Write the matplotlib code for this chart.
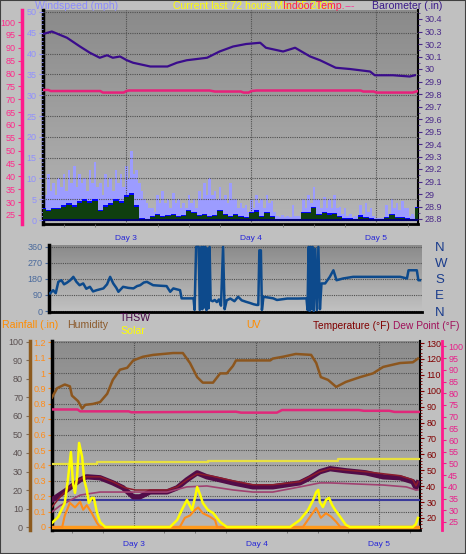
import numpy as np
import matplotlib
matplotlib.use('Agg')
import matplotlib.pyplot as plt
from matplotlib.colors import LinearSegmentedColormap
from matplotlib.ticker import MultipleLocator, FuncFormatter, FixedLocator
from matplotlib.patches import Rectangle

plt.rcParams['font.family'] = ['Liberation Sans', 'DejaVu Sans']

# ---------------- DATA ----------------
day_ticks = [16.0, 40.0, 64.0]
day_labels = ['Day 3', 'Day 4', 'Day 5']

# wind gusts, half-hourly (mph)
gust_mph = [8, 6, 11, 7, 9, 6, 10, 8, 11, 7, 12, 9,
            13, 8, 11, 9, 10, 7, 12, 9, 14, 8, 9, 6,
            11, 8, 10, 7, 12, 9, 11, 8, 13, 10, 16.5, 11,
            12, 9, 7, 5, 4, 3, 3, 2, 6, 4, 7, 4,
            5, 3, 6.5, 4, 5, 3, 4, 3, 6, 4, 5, 3,
            7, 5, 9, 6, 10, 6, 7, 5, 8, 5, 6, 4,
            9, 5, 5, 3, 4, 3, 3.5, 2, 5, 3, 6, 4,
            5, 3, 6, 4, 4.5, 2, 1, 0.8, 1.2, 0.8, 1, 0.8,
            3.5, 1, 1, 0.8, 5, 3, 6, 4, 8, 5, 5, 3,
            5.5, 3, 5, 3, 6, 3, 3.2, 1.5, 3, 1, 1.5, 0.8,
            1, 0.8, 3.5, 1.5, 4, 2, 3, 1, 0.5, 0.5, 0.5, 0.5,
            3.5, 1.5, 5, 3, 4, 2.5, 4.5, 3, 3, 1, 1.5, 1,
            7]
# average wind, hourly (mph)
wind_avg = [3, 2.5, 3, 3, 3.5, 4, 3.5, 4.5, 5, 4.5,
            5, 2.5, 3.5, 4, 5, 4.5, 6, 6.5, 3.5, 0.5,
            0.3, 1, 1.5, 1, 1.2, 1.5, 1, 1.2, 2.5, 2,
            1.2, 1.5, 1, 1.2, 2.5, 1.5, 1, 1.5, 1, 0.8,
            2, 2.4, 1, 2, 1, 0.3, 0.3, 0.3, 0.3, 0.3,
            2, 2, 3.2, 1.5, 2, 1.6, 1.8, 1, 0.6, 0.5,
            0.3, 1.2, 0.8, 0.5, 0.2, 0.2, 0.8, 1.5, 0.8, 0.8,
            0.5, 0.3, 3.2]
wind_low = [2.7, 2.1, 2.7, 2.6, 3.1, 3.6, 3.1, 4.1, 4.6, 4.1,
            4.6, 2.1, 3.1, 3.6, 4.6, 4.1, 5.5, 6.0, 3.1, 0.2,
            0.1, 0.7, 1.1, 0.7, 0.9, 1.1, 0.7, 0.9, 2.1, 1.6,
            0.9, 1.1, 0.7, 0.9, 2.1, 1.1, 0.7, 1.1, 0.7, 0.5,
            1.6, 2.0, 0.7, 1.6, 0.7, 0.1, 0.1, 0.1, 0.1, 0.1,
            1.6, 1.6, 2.8, 1.1, 1.6, 1.2, 1.4, 0.7, 0.3, 0.2,
            0.1, 0.8, 0.5, 0.2, 0.1, 0.1, 0.5, 1.1, 0.5, 0.5,
            0.2, 0.1, 2.8]

baro_hours = [0, 1.7, 4.6, 7.1, 9.0, 10.9, 12.3, 13.4, 14.8, 16.1, 17.3, 20.6, 23.9, 25.7,
              27.6, 31.5, 33.9, 36.5, 39.0, 41.7, 42.8, 46.1, 48.4, 51.3, 53.2, 56.2,
              58.9, 62.8, 63.7, 67.2, 70.4, 71.4]
baro_in = [30.28, 30.30, 30.25, 30.18, 30.13, 30.09, 30.11, 30.09, 30.10, 30.07, 30.05, 30.02, 30.02, 30.05,
           30.07, 30.09, 30.14, 30.18, 30.20, 30.21, 30.17, 30.14, 30.17, 30.10, 30.07, 30.01,
           30.00, 29.98, 29.95, 29.95, 29.94, 29.95]

in_temp_hours = [0, 1, 1.5, 11, 11.5, 15.5, 16, 16.5, 32, 33, 38, 38.5, 39.5, 40, 41, 61, 61.5, 63.5, 64, 71, 72]
in_temp_f = [73.6, 73.6, 73.2, 73.2, 72.6, 72.6, 73.2, 73.4, 73.4, 73.0, 73.0, 72.6, 72.6, 73.2, 73.4,
             73.4, 73.0, 73.0, 72.6, 72.6, 73.2]

dir_hours = [0.2, 0.8, 1.3, 1.8, 2.4, 2.9, 3.4, 4.1, 4.7, 5.3, 5.9, 6.6, 7.2, 7.9, 8.5, 9.2, 10.5, 11.2,
             11.8, 12.4, 13.0, 13.4, 14.3, 15.3, 16.3, 17.0, 17.6, 18.3, 18.9, 20.1, 21.5, 22.7, 23.4,
             24.0, 25.3, 25.6, 27.9, 28.1, 28.4, 28.9, 29.1, 29.4, 29.6, 29.8, 30.0, 30.2, 30.4, 30.6,
             30.8, 31.0, 31.2, 31.6, 32.0, 32.4, 32.8, 33.2, 33.6, 33.9, 34.3, 35.0, 35.8, 36.5, 37.2,
             38.0, 38.8, 39.5, 40.1, 40.4, 40.6, 40.9, 41.1, 41.4, 42.5, 43.3, 44.0, 46.0, 48.0, 49.7,
             49.9, 50.1, 50.3, 50.5, 50.7, 50.9, 51.1, 51.4, 51.7, 52.0, 52.3, 52.6, 53.3, 54.2, 54.9,
             55.5, 56.8, 58.7, 67.8, 69.1, 69.4, 71.0, 71.3, 71.6]
dir_deg = [99, 117, 100, 164, 173, 150, 158, 173, 192, 164, 145, 155, 125, 136, 110, 117, 127, 150,
           192, 155, 130, 108, 136, 130, 127, 140, 145, 160, 164, 145, 142, 140, 108,
           127, 117, 71, 71, 6, 360, 360, 6, 360, 10, 360, 20, 360, 5, 350,
           15, 360, 60, 55, 62, 50, 65, 30, 360, 10, 60, 70, 55, 80, 60,
           52, 45, 38, 34, 34, 341, 341, 6, 80, 75, 71, 62, 70, 70, 71,
           6, 360, 0, 360, 10, 360, 0, 350, 5, 360, 10, 155, 155, 192, 229,
           173, 183, 192, 192, 183, 229, 229, 173, 173]

hum_hours = [0, 1, 2.5, 3.5, 3.9, 5.1, 5.9, 6.5, 8.0, 9.4, 10.8, 11.9, 13.3, 14.7, 15.9, 17.8, 19.8,
             23.7, 25.6, 27.0, 28.4, 29.5, 31.5, 32.9, 34.2, 35.4, 36.0, 42.7, 43.2, 45.2, 47.7,
             50.7, 51.7, 52.6, 54.0, 55.6, 57.5, 60.3, 62.8, 64.8, 68.1, 70.6, 71.6]
hum_pct = [70, 75, 77, 76, 71, 68, 64, 66, 66.5, 67.5, 72, 79.5, 85, 86, 90, 92, 93,
           94, 94, 88.6, 81, 78, 78, 83, 83, 87, 90, 90, 91, 92, 93.5,
           93, 88.6, 81, 79.5, 75.7, 78.4, 81, 83, 86.5, 88.6, 89, 91]
in_hum_hours = [0, 5, 5.5, 15, 15.5, 36, 37, 44, 45, 60, 61, 66, 67, 72]
in_hum_pct = [63.5, 63.5, 62.5, 62.5, 62.0, 62.3, 61.8, 61.8, 63.2, 63.2, 62.8, 62.8, 62.2, 62.2]

thsw_hours = [0, 2.9, 5.5, 6.8, 9.4, 11.9, 13.9, 15.9, 17.2, 19.2, 22.5, 24.5, 26.4, 28.4, 30.3,
              32.9, 35.4, 39.3, 43.2, 48.5, 50.5, 52.4, 54.4, 57.5, 61.4, 64.8, 68.1, 70.6, 71.2, 71.6]
thsw_f = [31.4, 37.6, 44.0, 45.9, 45.3, 42.1, 39.0, 33.3, 33.3, 36.4, 36.4, 39.0, 44.0, 48.4, 45.9,
          44.0, 42.1, 39.6, 39.6, 42.1, 45.3, 49.1, 51.0, 49.7, 48.4, 45.9, 45.3, 42.8, 39.0, 42.1]
temp_hours = [0, 1.6, 2.9, 4.5, 6.5, 9.4, 11.9, 14.3, 16.3, 19.2, 22.5, 24.5, 26.4, 28.4, 30.9,
              35.4, 39.3, 43.2, 48.5, 52.4, 54.4, 61.4, 68.1, 70.6, 71.2, 71.6]
temp_f = [26.9, 33.3, 37.6, 42.6, 45.9, 45.9, 42.8, 39.0, 37.6, 37.6, 37.6, 39.6, 44.0, 47.8, 46.6,
          43.4, 40.9, 40.9, 42.8, 49.1, 51.0, 49.1, 46.6, 44.0, 40.2, 42.8]
dew_hours = [0, 1.6, 5.5, 9.4, 22.5, 26.4, 30.3, 35.4, 39.3, 43.2, 48.5, 52.4, 54.4, 64.8, 69.3, 71.2, 71.6]
dew_f = [29.3, 32.0, 36.5, 37.8, 37.8, 40.0, 40.4, 38.7, 37.8, 37.8, 40.0, 41.7, 41.7, 40.8, 40.0, 38.7, 38.7]

solar_hours = [0, 1.2, 2.5, 3.1, 3.7, 4.1, 4.5, 4.9, 5.3, 5.9, 6.3, 6.8, 7.2, 7.8, 8.2, 8.8, 9.4, 10.4,
               23.1, 24.5, 25.4, 26.4, 27.4, 28.0, 28.4, 29.0, 29.5, 30.5, 31.5, 32.9, 34.2,
               46.6, 48.5, 50.1, 51.1, 51.7, 52.1, 52.4, 53.0, 53.6, 54.2, 54.8, 55.4, 56.4, 57.5, 58.3,
               70.6, 71.2, 71.6]
solar_wm2 = [22, 54, 130, 254, 405, 238, 184, 270, 454, 378, 254, 200, 130, 157, 157, 76, 27, 0,
             0, 38, 92, 146, 92, 162, 216, 173, 130, 92, 76, 27, 0,
             0, 38, 92, 146, 189, 200, 135, 108, 146, 157, 119, 92, 54, 11, 0,
             0, 16, 49]
uv_hours = [0, 2.0, 2.5, 3.5, 4.5, 5.5, 6.1, 6.8, 7.8, 8.8, 9.4, 25.0, 26.0, 27.0, 28.0, 28.6, 29.5,
            30.9, 31.9, 32.3, 49.1, 50.5, 51.7, 52.6, 53.6, 54.6, 55.6, 56.4, 72]
uv_index = [0, 0, 1.0, 2.1, 1.7, 2.2, 1.5, 1.9, 1.2, 0.35, 0, 0, 0.8, 1.0, 1.5, 1.7, 1.2,
            0.9, 0.6, 0, 0, 0.9, 1.65, 0.8, 1.2, 0.9, 0.45, 0, 0]
rain_hours = [0, 72]
rain_in = [0, 0]
et_hours = [0, 8.8, 30.5, 56.0, 72]
et_in = [0.41, 0.42, 0.43, 0.44, 0.44]
ref_hours = [0, 72]
ref_in = [0.175, 0.175]

# ---------------- FIGURE ----------------
W, H = 466, 554
fig = plt.figure(figsize=(W / 100, H / 100), dpi=100)
fig.patch.set_facecolor('#c0c0c0')
PT = 0.72


def rect(x0, y0, x1, y1):
    return [x0 / W, 1 - y1 / H, (x1 - x0) / W, (y1 - y0) / H]


def bg(ax, top, bottom):
    cmap = LinearSegmentedColormap.from_list('g', [bottom, top])
    grad = np.linspace(0, 1, 256).reshape(-1, 1)
    ax.imshow(grad, extent=(0, 1, 0, 1), transform=ax.transAxes, aspect='auto',
              cmap=cmap, origin='lower', zorder=0)


fmt = FuncFormatter(lambda v, p: f'{round(v, 3):g}')


def hide(ax, keep=()):
    for k, s in ax.spines.items():
        s.set_visible(k in keep)


def text(x, y, s, color, size=7.6):
    fig.text(x / W, 1 - y / H, s, color=color, fontsize=size, ha='left', va='center')


def xdays(ax):
    ax.set_xlim(0, 72)
    ax.set_xticks(day_ticks)
    ax.set_xticklabels(day_labels)
    ax.xaxis.set_minor_locator(FixedLocator(list(np.arange(day_ticks[0] - 12, 72, 6))))
    ax.tick_params(axis='x', which='major', length=0, pad=8, labelsize=6, labelcolor='#2424d8')
    ax.tick_params(axis='x', which='minor', length=2, color='#707070')
    ax.grid(axis='x', which='major', ls=(0, (1, 1)), color='#505050', lw=0.8)


# ---------- panel 1: wind / barometer ----------
ax1 = fig.add_axes(rect(43, 10, 418, 224))
bg(ax1, '#8a8a8a', '#b6b6b6')
gust_hours = np.arange(len(gust_mph)) * 0.5
hours = np.arange(len(wind_avg))
ax1.fill_between(gust_hours, gust_mph, step='mid', color='#9c9cff', lw=0, zorder=2)
ax1.fill_between(hours, wind_avg, step='mid', color='#0000ff', lw=0, zorder=3)
ax1.fill_between(hours, wind_low, step='mid', color='#0f3f0f', lw=0, zorder=4)
ax1.axhline(0, color='#000070', lw=1.5, zorder=5)
ax1.set_ylim(-0.96, 50.48)
xdays(ax1)
ax1.yaxis.set_major_locator(MultipleLocator(5))
ax1.yaxis.set_minor_locator(MultipleLocator(1))
ax1.yaxis.set_major_formatter(fmt)
ax1.tick_params(axis='y', which='both', colors='#9090ff', labelsize=6.5, pad=1.5)
ax1.tick_params(axis='y', which='major', length=3)
ax1.tick_params(axis='y', which='minor', length=1.5)
ax1.grid(axis='y', which='major', ls=(0, (1, 1)), color='#505050', lw=0.8)
ax1.set_axisbelow(False)
hide(ax1, ('left', 'bottom', 'right'))
ax1.spines['left'].set_linewidth(2.5)
ax1.spines['bottom'].set_linewidth(2)
ax1.spines['right'].set_linewidth(1.5)

axT = ax1.twinx()
hide(axT, ('left',))
axT.spines['left'].set_position(('outward', 21 * PT))
axT.spines['left'].set_color('#ff1a8c')
axT.spines['left'].set_linewidth(2.5)
axT.yaxis.set_ticks_position('left')
axT.set_ylim(21.5, 104.7)
axT.yaxis.set_major_locator(MultipleLocator(5))
axT.yaxis.set_major_formatter(fmt)
axT.tick_params(axis='y', colors='#ff2a8a', labelsize=6.5, length=3, pad=1.5)
axT.plot(in_temp_hours, in_temp_f, color='#e8207a', lw=1.8)

axB = ax1.twinx()
hide(axB)
axB.set_ylim(28.76, 30.472)
axB.yaxis.set_major_locator(MultipleLocator(0.1))
axB.yaxis.set_minor_locator(MultipleLocator(0.05))
axB.yaxis.set_major_formatter(fmt)
axB.tick_params(axis='y', which='both', colors='#4a2a8a', labelsize=6.5, pad=1.5)
axB.tick_params(axis='y', which='major', length=3)
axB.tick_params(axis='y', which='minor', length=1.5)
axB.plot(baro_hours, baro_in, color='#3a0c8c', lw=1.6)

text(35, 6, 'Windspeed (mph)', '#8c8cff')
text(173, 6, 'Current last 72 hours Mar 05 2026', '#ffff00')
text(283, 6, 'Indoor Temp.', '#ff2050')
text(345, 6, '---', '#ff3399')
text(372, 6, 'Barometer (.in)', '#3a1a8a')

# ---------- panel 2: wind direction ----------
ax2 = fig.add_axes(rect(49, 245, 422, 312))
bg(ax2, '#8a8a8a', '#c2c2c2')
ax2.plot(dir_hours, dir_deg, color='#0d4a8c', lw=1.8, zorder=3)
ax2.set_xlim(0, 72)
ax2.set_ylim(-5.6, 371)
ax2.set_yticks([0, 90, 180, 270, 360])
ax2.set_xticks([])
ax2.tick_params(axis='y', colors='#4a6a9c', labelsize=6.5, length=3, pad=1.5)
ax2.grid(axis='y', ls=(0, (1, 1)), color='#505050', lw=0.8)
hide(ax2, ('left', 'bottom'))
ax2.spines['left'].set_linewidth(2.5)
ax2.spines['bottom'].set_linewidth(2)
ax2r = ax2.twinx()
hide(ax2r)
ax2r.set_ylim(-5.6, 371)
ax2r.set_yticks([360, 270, 180, 90, 0])
ax2r.set_yticklabels(['N', 'W', 'S', 'E', 'N'])
ax2r.tick_params(axis='y', length=0, pad=13 * PT, labelsize=9.5, labelcolor='#1a3c8c')

# ---------- panel 3: rain / humidity / temperature ----------
ax3 = fig.add_axes(rect(52, 341, 420, 530))
bg(ax3, '#8c8c8c', '#b8b8b8')
ax3.set_ylim(-0.0195, 1.208)
ax3.yaxis.set_major_locator(MultipleLocator(0.1))
ax3.yaxis.set_major_formatter(fmt)
ax3.tick_params(axis='y', colors='#ff8c1a', labelsize=6.5, length=3, pad=1.5)
ax3.grid(axis='y', ls=(0, (1, 1)), color='#505050', lw=0.8)
xdays(ax3)
hide(ax3, ('left', 'bottom', 'right'))
ax3.spines['left'].set_linewidth(2.5)
ax3.spines['bottom'].set_linewidth(2)
ax3.spines['right'].set_linewidth(1.5)
ax3.plot(ref_hours, ref_in, color='#3a3a9a', lw=1.5, zorder=3)
ax3.step(et_hours, et_in, where='post', color='#e8e040', lw=1.6, zorder=3)

axH = ax3.twinx()
hide(axH, ('left',))
axH.spines['left'].set_position(('outward', 22 * PT))
axH.spines['left'].set_color('#8c5a1e')
axH.spines['left'].set_linewidth(2.5)
axH.yaxis.set_ticks_position('left')
axH.set_ylim(-1.6, 100.5)
axH.yaxis.set_major_locator(MultipleLocator(10))
axH.tick_params(axis='y', color='#7a6a5a', labelcolor='#5a5050', labelsize=6.5, length=3, pad=2)
axH.plot(in_hum_hours, in_hum_pct, color='#e0287a', lw=1.8)
axH.plot(hum_hours, hum_pct, color='#8c561e', lw=1.8)

axTe = ax3.twinx()
hide(axTe)
axTe.set_ylim(12.45, 131.3)
axTe.yaxis.set_major_locator(MultipleLocator(10))
axTe.yaxis.set_minor_locator(MultipleLocator(2))
axTe.tick_params(axis='y', which='both', colors='#800000', labelsize=6.5, pad=1.5)
axTe.tick_params(axis='y', which='major', length=3)
axTe.tick_params(axis='y', which='minor', length=1.5)
axTe.plot(thsw_hours, thsw_f, color='#520c48', lw=3.8)
axTe.plot(temp_hours, temp_f, color='#8c1c2c', lw=1.1)

axD = ax3.twinx()
hide(axD, ('right',))
axD.spines['right'].set_position(('outward', 22 * PT))
axD.spines['right'].set_color('#ff1a8c')
axD.spines['right'].set_linewidth(2)
axD.set_ylim(21.58, 102.35)
axD.yaxis.set_major_locator(MultipleLocator(5))
axD.tick_params(axis='y', colors='#e8208a', labelsize=6.5, length=3, pad=1.5)
axD.plot(dew_hours, dew_f, color='#a04070', lw=1.2)

axR = ax3.twinx()
hide(axR)
axR.set_yticks([])
axR.set_ylim(-0.0195, 1.208)
axR.plot(rain_hours, rain_in, color='#ff9a1a', lw=2.5)

axU = ax3.twinx()
hide(axU)
axU.set_yticks([])
axU.set_ylim(-0.26, 16.17)
axU.plot(uv_hours, uv_index, color='#ff8c1a', lw=1.5)

axS = ax3.twinx()
hide(axS)
axS.set_yticks([])
axS.set_ylim(-16.2, 1004.4)
axS.plot(solar_hours, solar_wm2, color='#ffff00', lw=1.8)

text(2, 325, 'Rainfall (.in)', '#ff8c00')
text(67, 325, 'Humidity', '#8b5a2b')
text(120, 318, 'THSW', '#4a0a4a')
text(120, 331, 'Solar', '#ffff00')
text(246, 325, 'UV', '#ff8c00')
text(313, 326, 'Temperature (°F)', '#800000', 7.3)
text(393, 326, 'Dew Point (°F)', '#a0105a', 7.3)

fig.add_artist(Rectangle((0, 0), 1, 1, transform=fig.transFigure, fill=False,
                         ec='#404040', lw=1.5))

fig.savefig('out.png', dpi=100, facecolor=fig.get_facecolor())
